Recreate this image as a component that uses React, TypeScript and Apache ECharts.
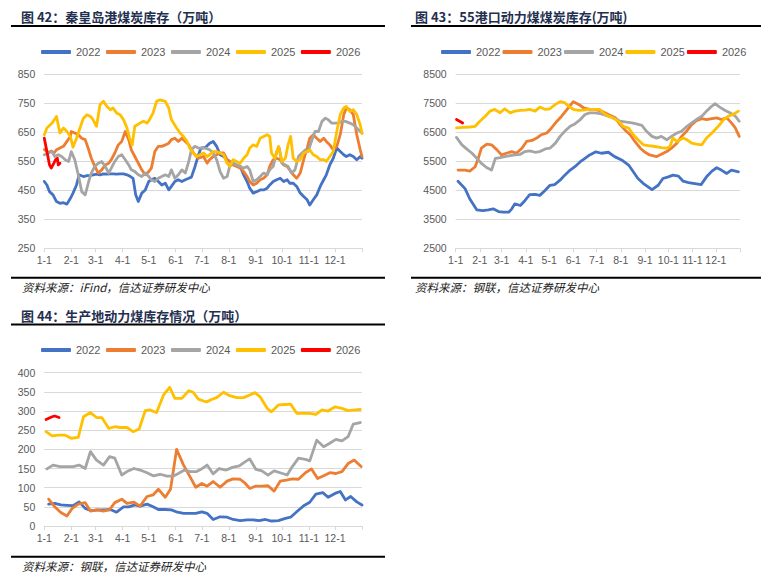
import React, { useEffect, useRef } from 'react';
import * as echarts from 'echarts';

// ---- axis ticks (day of year) ----
const monthStartDays = [0, 31, 59, 90, 120, 151, 181, 212, 243, 273, 304, 334];
const monthLabels = ['1-1', '2-1', '3-1', '4-1', '5-1', '6-1', '7-1', '8-1', '9-1', '10-1', '11-1', '12-1'];
const tickDays = [...monthStartDays, 365];
const years = ['2022', '2023', '2024', '2025', '2026'];

// ---- 图42 秦皇岛港煤炭库存 (万吨) [day, value] ----
const qhd2022: [number, number][] = [[0,480],[3,468],[6,445],[10,434],[14,411],[18,405],[22,407],[26,402],[30,422],[33,440],[37,468],[40,503],[45,497],[49,500],[53,501],[56,503],[60,505],[64,503],[68,506],[72,505],[76,506],[79,506],[83,505],[87,506],[91,506],[95,503],[99,497],[102,491],[105,434],[108,411],[112,440],[116,451],[120,480],[123,486],[127,491],[131,480],[135,468],[139,474],[143,451],[146,463],[150,480],[154,486],[158,480],[162,486],[166,491],[169,495],[173,530],[177,570],[180,595],[185,597],[190,612],[194,618],[198,601],[202,572],[206,566],[210,555],[213,549],[217,543],[221,537],[225,532],[229,503],[233,480],[236,457],[240,440],[244,445],[248,451],[252,451],[256,457],[259,468],[263,480],[267,486],[271,491],[275,480],[279,486],[282,474],[286,474],[290,463],[294,440],[298,428],[302,417],[305,399],[309,417],[313,434],[317,463],[321,486],[324,503],[328,537],[332,560],[336,595],[340,583],[344,572],[347,566],[351,572],[355,566],[359,555],[363,566],[365,560]];
const qhd2023: [number, number][] = [[0,590],[4,580],[8,585],[11,578],[14,589],[18,595],[22,601],[26,618],[30,635],[31,652],[35,647],[39,641],[43,629],[47,624],[51,589],[54,560],[58,532],[62,509],[66,520],[70,537],[74,543],[77,555],[81,578],[85,606],[89,618],[93,652],[97,624],[100,589],[104,566],[108,543],[112,520],[116,503],[120,514],[123,526],[127,583],[131,601],[135,601],[139,606],[143,612],[146,624],[150,629],[154,618],[158,629],[162,618],[166,606],[169,589],[173,572],[177,560],[183,566],[187,543],[190,555],[194,566],[198,572],[202,578],[206,578],[210,555],[213,549],[217,537],[221,532],[225,526],[229,514],[233,497],[236,480],[240,468],[244,474],[248,486],[252,491],[256,503],[259,532],[263,555],[267,560],[271,555],[275,537],[279,532],[282,520],[286,503],[290,491],[294,509],[298,555],[302,595],[305,629],[309,641],[313,629],[317,618],[321,629],[324,618],[328,606],[332,589],[336,601],[340,641],[344,710],[347,733],[351,727],[355,710],[359,641],[363,589],[365,566]];
const qhd2024: [number, number][] = [[0,572],[5,578],[9,583],[12,566],[16,572],[20,566],[24,555],[28,549],[31,583],[35,555],[39,503],[43,445],[47,434],[51,480],[54,509],[58,532],[62,543],[66,549],[70,532],[74,509],[77,526],[81,549],[85,566],[89,572],[93,555],[97,537],[100,520],[104,514],[108,503],[112,497],[116,509],[120,497],[123,486],[127,480],[131,491],[135,497],[139,503],[143,497],[146,520],[150,491],[154,503],[158,520],[162,509],[166,549],[169,589],[173,601],[177,595],[185,595],[190,589],[194,578],[198,555],[202,514],[206,491],[210,497],[213,532],[217,543],[221,537],[225,532],[229,526],[233,532],[236,520],[240,480],[244,486],[248,497],[252,509],[256,503],[259,520],[263,532],[267,583],[270,595],[273,543],[277,537],[280,532],[284,509],[288,520],[292,566],[296,578],[300,589],[303,583],[307,618],[311,652],[315,652],[319,687],[323,698],[326,693],[330,681],[334,681],[338,681],[342,687],[346,687],[351,681],[355,675],[359,664],[363,652],[365,647]];
const qhd2025: [number, number][] = [[0,641],[3,664],[9,681],[14,704],[18,647],[22,664],[26,652],[30,635],[33,598],[37,629],[41,664],[45,698],[49,710],[53,704],[56,693],[60,670],[64,744],[68,756],[72,738],[76,727],[79,733],[83,716],[87,710],[91,693],[95,664],[98,629],[101,606],[104,670],[110,681],[114,687],[118,681],[121,693],[125,716],[129,756],[133,761],[139,756],[143,733],[146,693],[152,664],[156,647],[160,635],[164,618],[167,595],[171,578],[175,566],[179,572],[183,578],[187,566],[190,572],[194,583],[198,583],[202,578],[206,572],[210,543],[213,532],[217,555],[221,549],[225,543],[229,560],[233,572],[236,595],[240,606],[244,601],[248,629],[252,635],[256,641],[259,635],[261,578],[265,560],[269,601],[273,549],[277,560],[280,606],[283,635],[286,560],[290,549],[294,555],[298,578],[302,583],[305,589],[309,572],[313,566],[317,555],[321,555],[324,549],[328,566],[332,583],[336,652],[340,710],[344,733],[347,738],[351,721],[355,727],[359,710],[363,675],[365,645]];
const qhd2026: [number, number][] = [[0,629],[3,583],[6,537],[8,526],[11,543],[13,555],[15,560],[16,537],[18,543]];

// ---- 图43 55港口动力煤煤炭库存 (万吨) ----
const port2022: [number, number][] = [[3,4809],[12,4554],[18,4206],[27,3823],[35,3800],[42,3823],[48,3858],[55,3765],[61,3742],[68,3742],[72,3858],[76,4032],[83,3974],[89,4148],[95,4345],[102,4356],[108,4322],[115,4496],[121,4670],[127,4693],[134,4844],[140,5018],[147,5192],[153,5308],[160,5482],[166,5598],[172,5714],[180,5820],[187,5772],[196,5806],[204,5656],[213,5540],[222,5366],[228,5134],[234,4902],[241,4728],[247,4612],[252,4519],[260,4670],[266,4902],[273,4960],[279,5018],[286,4983],[292,4809],[299,4763],[307,4728],[315,4693],[322,4960],[329,5157],[335,5273],[341,5192],[348,5076],[354,5192],[363,5134]];
const port2023: [number, number][] = [[3,5192],[12,5192],[18,5157],[25,5308],[29,5598],[33,5946],[40,6085],[46,6062],[53,5888],[59,5714],[65,5772],[72,5830],[78,5772],[85,5946],[91,6178],[98,6212],[104,6294],[110,6410],[117,6468],[123,6642],[130,6874],[136,7048],[143,7280],[151,7546],[158,7454],[164,7338],[172,7280],[179,7280],[187,7222],[196,7106],[205,6990],[211,6758],[217,6584],[224,6410],[230,6178],[237,5946],[243,5806],[249,5714],[258,5656],[264,5737],[271,5830],[277,5946],[284,6120],[290,6352],[297,6549],[303,6758],[309,6897],[316,6966],[322,6932],[329,6966],[335,6990],[341,6932],[348,6990],[354,6816],[359,6642],[364,6352]];
const port2024: [number, number][] = [[1,6317],[8,6062],[14,5922],[21,5772],[27,5598],[33,5424],[40,5273],[46,5192],[51,5598],[57,5621],[63,5656],[70,5690],[76,5714],[83,5737],[89,5830],[95,5853],[102,5806],[108,5830],[115,5922],[121,5946],[128,6120],[134,6352],[140,6526],[147,6700],[153,6781],[160,6932],[166,7106],[172,7164],[179,7164],[187,7129],[196,7048],[205,6966],[211,6874],[217,6851],[226,6816],[232,6781],[239,6734],[245,6526],[252,6352],[258,6294],[264,6352],[271,6236],[277,6352],[284,6468],[290,6526],[297,6700],[303,6816],[309,6932],[316,7048],[322,7222],[329,7396],[333,7477],[339,7361],[346,7245],[352,7164],[359,7048],[364,6874]];
const port2025: [number, number][] = [[1,6642],[10,6665],[18,6676],[25,6700],[31,6874],[38,7048],[44,7222],[50,7280],[57,7164],[63,7303],[70,7164],[76,7222],[83,7245],[89,7256],[95,7280],[102,7222],[108,7361],[115,7280],[121,7303],[128,7454],[134,7546],[140,7512],[145,7396],[151,7280],[158,7245],[164,7256],[170,7280],[177,7280],[185,7280],[192,7106],[200,7013],[209,6874],[215,6700],[222,6642],[228,6410],[234,6236],[241,6062],[247,6038],[256,6004],[264,5969],[271,5946],[275,6004],[279,6294],[284,6178],[288,6236],[292,6294],[297,6236],[303,6120],[309,6085],[316,6062],[322,6294],[329,6468],[335,6642],[339,6758],[344,6932],[350,7048],[356,7106],[363,7222]];
const port2026: [number, number][] = [[1,6932],[9,6816]];

// ---- 图44 生产地动力煤库存情况 (万吨) ----
const prod2022: [number, number][] = [[5,57],[12,59],[19,55],[26,54],[33,53],[40,63],[47,46],[54,40],[62,42],[69,42],[76,43],[83,36],[91,50],[97,50],[104,55],[110,52],[118,57],[125,50],[131,43],[139,43],[146,42],[153,36],[160,33],[167,33],[174,33],[181,37],[187,33],[194,17],[202,24],[210,23],[217,17],[225,14],[233,16],[240,16],[247,14],[254,17],[261,13],[269,14],[277,20],[283,23],[290,37],[298,53],[305,62],[312,83],[320,87],[326,75],[334,85],[340,90],[346,68],[352,77],[359,63],[365,55]];
const prod2023: [number, number][] = [[5,70],[12,50],[19,35],[26,26],[32,46],[39,57],[47,61],[53,39],[60,42],[68,39],[75,43],[81,61],[89,70],[95,59],[103,62],[110,52],[118,77],[125,81],[131,96],[139,75],[145,96],[152,200],[160,159],[167,130],[174,101],[181,111],[187,104],[194,116],[202,101],[210,117],[217,123],[225,122],[231,111],[236,98],[243,104],[250,104],[257,105],[264,91],[271,117],[278,120],[285,123],[292,122],[300,139],[307,149],[314,124],[321,131],[328,139],[335,137],[342,142],[349,163],[356,172],[364,155]];
const prod2024: [number, number][] = [[3,149],[10,159],[18,155],[26,155],[33,155],[40,159],[47,150],[53,194],[60,172],[68,159],[75,181],[81,177],[89,133],[95,142],[103,150],[110,146],[118,139],[125,131],[133,135],[141,130],[148,130],[154,137],[161,146],[168,142],[175,142],[180,148],[187,159],[194,136],[201,150],[209,146],[216,153],[224,157],[231,168],[236,175],[243,148],[250,144],[257,133],[264,144],[271,139],[279,133],[285,155],[292,177],[300,174],[305,170],[313,224],[321,207],[328,216],[335,226],[342,222],[349,233],[355,266],[363,270]];
const prod2025: [number, number][] = [[2,246],[9,235],[16,237],[24,237],[31,229],[39,231],[45,285],[53,296],[60,283],[66,283],[74,255],[81,259],[87,257],[95,257],[102,246],[109,253],[116,301],[121,303],[129,296],[137,342],[144,362],[150,333],[158,333],[166,353],[171,349],[177,331],[183,326],[187,324],[192,330],[198,335],[206,349],[213,340],[221,335],[229,335],[236,342],[242,348],[248,337],[256,307],[261,298],[269,316],[277,317],[283,318],[290,294],[298,294],[305,294],[312,291],[319,303],[326,300],[334,311],[342,307],[349,301],[357,303],[363,304]];
const prod2026: [number, number][] = [[2,278],[9,285],[12,287],[17,283]];

const colors: Record<string, string> = {
  '2022': '#4472C4',
  '2023': '#ED7D31',
  '2024': '#A5A5A5',
  '2025': '#FFC000',
  '2026': '#FF0000',
};

const FONT = '"Liberation Sans", Arial, sans-serif';
const CJK = '"Noto Sans CJK SC", sans-serif';

function mkSeries(idx: number, sets: [number, number][][]) {
  return sets.map((d, i) => ({
    type: 'line',
    name: years[i],
    xAxisIndex: idx,
    yAxisIndex: idx,
    data: d,
    symbol: 'none',
    showSymbol: false,
    lineStyle: { width: 2.8, color: colors[years[i]], cap: 'round', join: 'round' },
    itemStyle: { color: colors[years[i]] },
    emphasis: { disabled: true },
  }));
}

function mkX(idx: number) {
  return {
    type: 'value',
    gridIndex: idx,
    min: 0,
    max: 365,
    axisLine: { show: true, onZero: false, lineStyle: { color: '#D9D9D9', width: 1 } },
    axisTick: { show: true, customValues: tickDays, length: 4, lineStyle: { color: '#D9D9D9' } },
    axisLabel: {
      customValues: monthStartDays,
      formatter: (v: number) => monthLabels[monthStartDays.indexOf(v)] ?? '',
      color: '#595959',
      fontSize: 10.5,
      fontFamily: FONT,
      margin: 6,
    },
    splitLine: { show: false },
  };
}

function mkY(idx: number, min: number, max: number, interval: number) {
  return {
    type: 'value',
    gridIndex: idx,
    min,
    max,
    interval,
    axisLine: { show: false },
    axisTick: { show: false },
    axisLabel: {
      color: '#595959',
      fontSize: 10.5,
      fontFamily: FONT,
      margin: 9,
      formatter: (v: number) => String(v),
    },
    splitLine: { show: true, lineStyle: { color: '#D9D9D9', width: 1 } },
  };
}

function mkLegend(left: number, top: number, gap: number) {
  return {
    left,
    top,
    orient: 'horizontal',
    icon: 'roundRect',
    itemWidth: 30,
    itemHeight: 4,
    itemGap: gap,
    data: years,
    textStyle: { color: '#595959', fontSize: 11, fontFamily: FONT },
    selectedMode: false,
  };
}

const titleStyle = { fontSize: 13, fontWeight: 'bold', fontFamily: CJK, fill: '#1F3050', verticalAlign: 'middle' };
const srcStyle = { fontSize: 11.5, fontStyle: 'italic', fontFamily: CJK, fill: '#222222', verticalAlign: 'middle' };
const rule = (x1: number, x2: number, y: number) => ({
  type: 'line',
  shape: { x1, y1: y, x2, y2: y },
  style: { stroke: '#000000', lineWidth: 2 },
  silent: true,
});

const option = {
  animation: false,
  backgroundColor: '#ffffff',
  grid: [
    { left: 44.3, top: 74, width: 317.7, height: 174.3 },
    { left: 455.7, top: 74, width: 284.3, height: 174.3 },
    { left: 44.3, top: 372.7, width: 317.7, height: 153.3 },
  ],
  xAxis: [mkX(0), mkX(1), mkX(2)],
  yAxis: [mkY(0, 250, 850, 100), mkY(1, 2500, 8500, 1000), mkY(2, 0, 400, 50)],
  legend: [mkLegend(36, 41.5, 5.5), mkLegend(436, 41.5, 2), mkLegend(36, 339.5, 5.5)],
  series: [
    ...mkSeries(0, [qhd2022, qhd2023, qhd2024, qhd2025, qhd2026]),
    ...mkSeries(1, [port2022, port2023, port2024, port2025, port2026]),
    ...mkSeries(2, [prod2022, prod2023, prod2024, prod2025, prod2026]),
  ],
  graphic: [
    { type: 'text', x: 21, y: 16.7, style: { ...titleStyle, text: '图 42：秦皇岛港煤炭库存（万吨）' } },
    { type: 'text', x: 415, y: 16.7, style: { ...titleStyle, text: '图 43：55港口动力煤煤炭库存(万吨)' } },
    { type: 'text', x: 21, y: 315, style: { ...titleStyle, text: '图 44：生产地动力煤库存情况（万吨）' } },
    rule(11, 385, 26),
    rule(411, 761, 26),
    rule(11, 385, 324.5),
    rule(11, 385, 277.7),
    rule(411, 761, 277.7),
    rule(11, 385, 556.7),
    { type: 'text', x: 22, y: 286.7, style: { ...srcStyle, text: '资料来源：iFind，信达证券研发中心' } },
    { type: 'text', x: 415, y: 286.7, style: { ...srcStyle, text: '资料来源：钢联，信达证券研发中心' } },
    { type: 'text', x: 22, y: 566, style: { ...srcStyle, text: '资料来源：钢联，信达证券研发中心' } },
  ],
};

export default function App() {
  const ref = useRef<HTMLDivElement>(null);
  useEffect(() => {
    if (!ref.current) return;
    const chart = echarts.init(ref.current, null, { renderer: 'svg' });
    chart.setOption(option as any);
    return () => chart.dispose();
  }, []);
  return (
    <div
      ref={ref}
      style={{ position: 'fixed', left: 0, top: 0, width: 761, height: 587, background: '#ffffff' }}
    />
  );
}
